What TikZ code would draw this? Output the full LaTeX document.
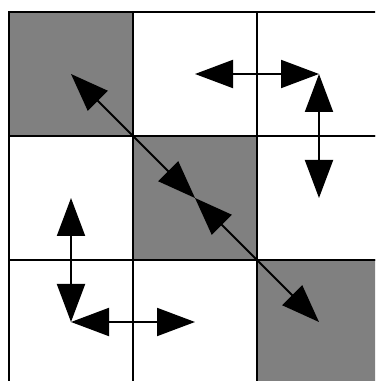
\documentclass[tikz,border=0pt]{standalone}
\usepackage{xcolor}
\usepackage{tikz}
\usetikzlibrary{arrows.meta, positioning}
\definecolor{grisceld}{RGB}{128, 128, 128}

\begin{document}
\begin{tikzpicture}[
    cell/.style={rectangle, draw=black, line width=1.1pt, fill=white,
                 minimum size=2.48cm, inner sep=0pt, outer sep=0pt},
    dark/.style={cell, fill=grisceld},
    arrow/.style={{Triangle[length=0.76cm, width=0.56cm]}-{Triangle[length=0.76cm, width=0.56cm]},
                  line width=1.1pt, black}
]
\useasboundingbox (0,0) rectangle (7.5,7.62);
\clip (0,0) rectangle (7.5,7.62);
\node (c11) [dark] at (1.42,6.14) {};
\node (c12) [cell, right=0cm of c11] {};
\node (c13) [cell, right=0cm of c12] {};
\node (c21) [cell, below=0cm of c11] {};
\node (c22) [dark, right=0cm of c21] {};
\node (c23) [cell, right=0cm of c22] {};
\node (c31) [cell, below=0cm of c21] {};
\node (c32) [cell, right=0cm of c31] {};
\node (c33) [dark, right=0cm of c32] {};
\draw [arrow] (c11.center) -- (c22.center);
\draw [arrow] (c22.center) -- (c33.center);
\draw [arrow] (c12.center) -- (c13.center);
\draw [arrow] (c13.center) -- (c23.center);
\draw [arrow] (c21.center) -- (c31.center);
\draw [arrow] (c31.center) -- (c32.center);
\end{tikzpicture}
\end{document}
